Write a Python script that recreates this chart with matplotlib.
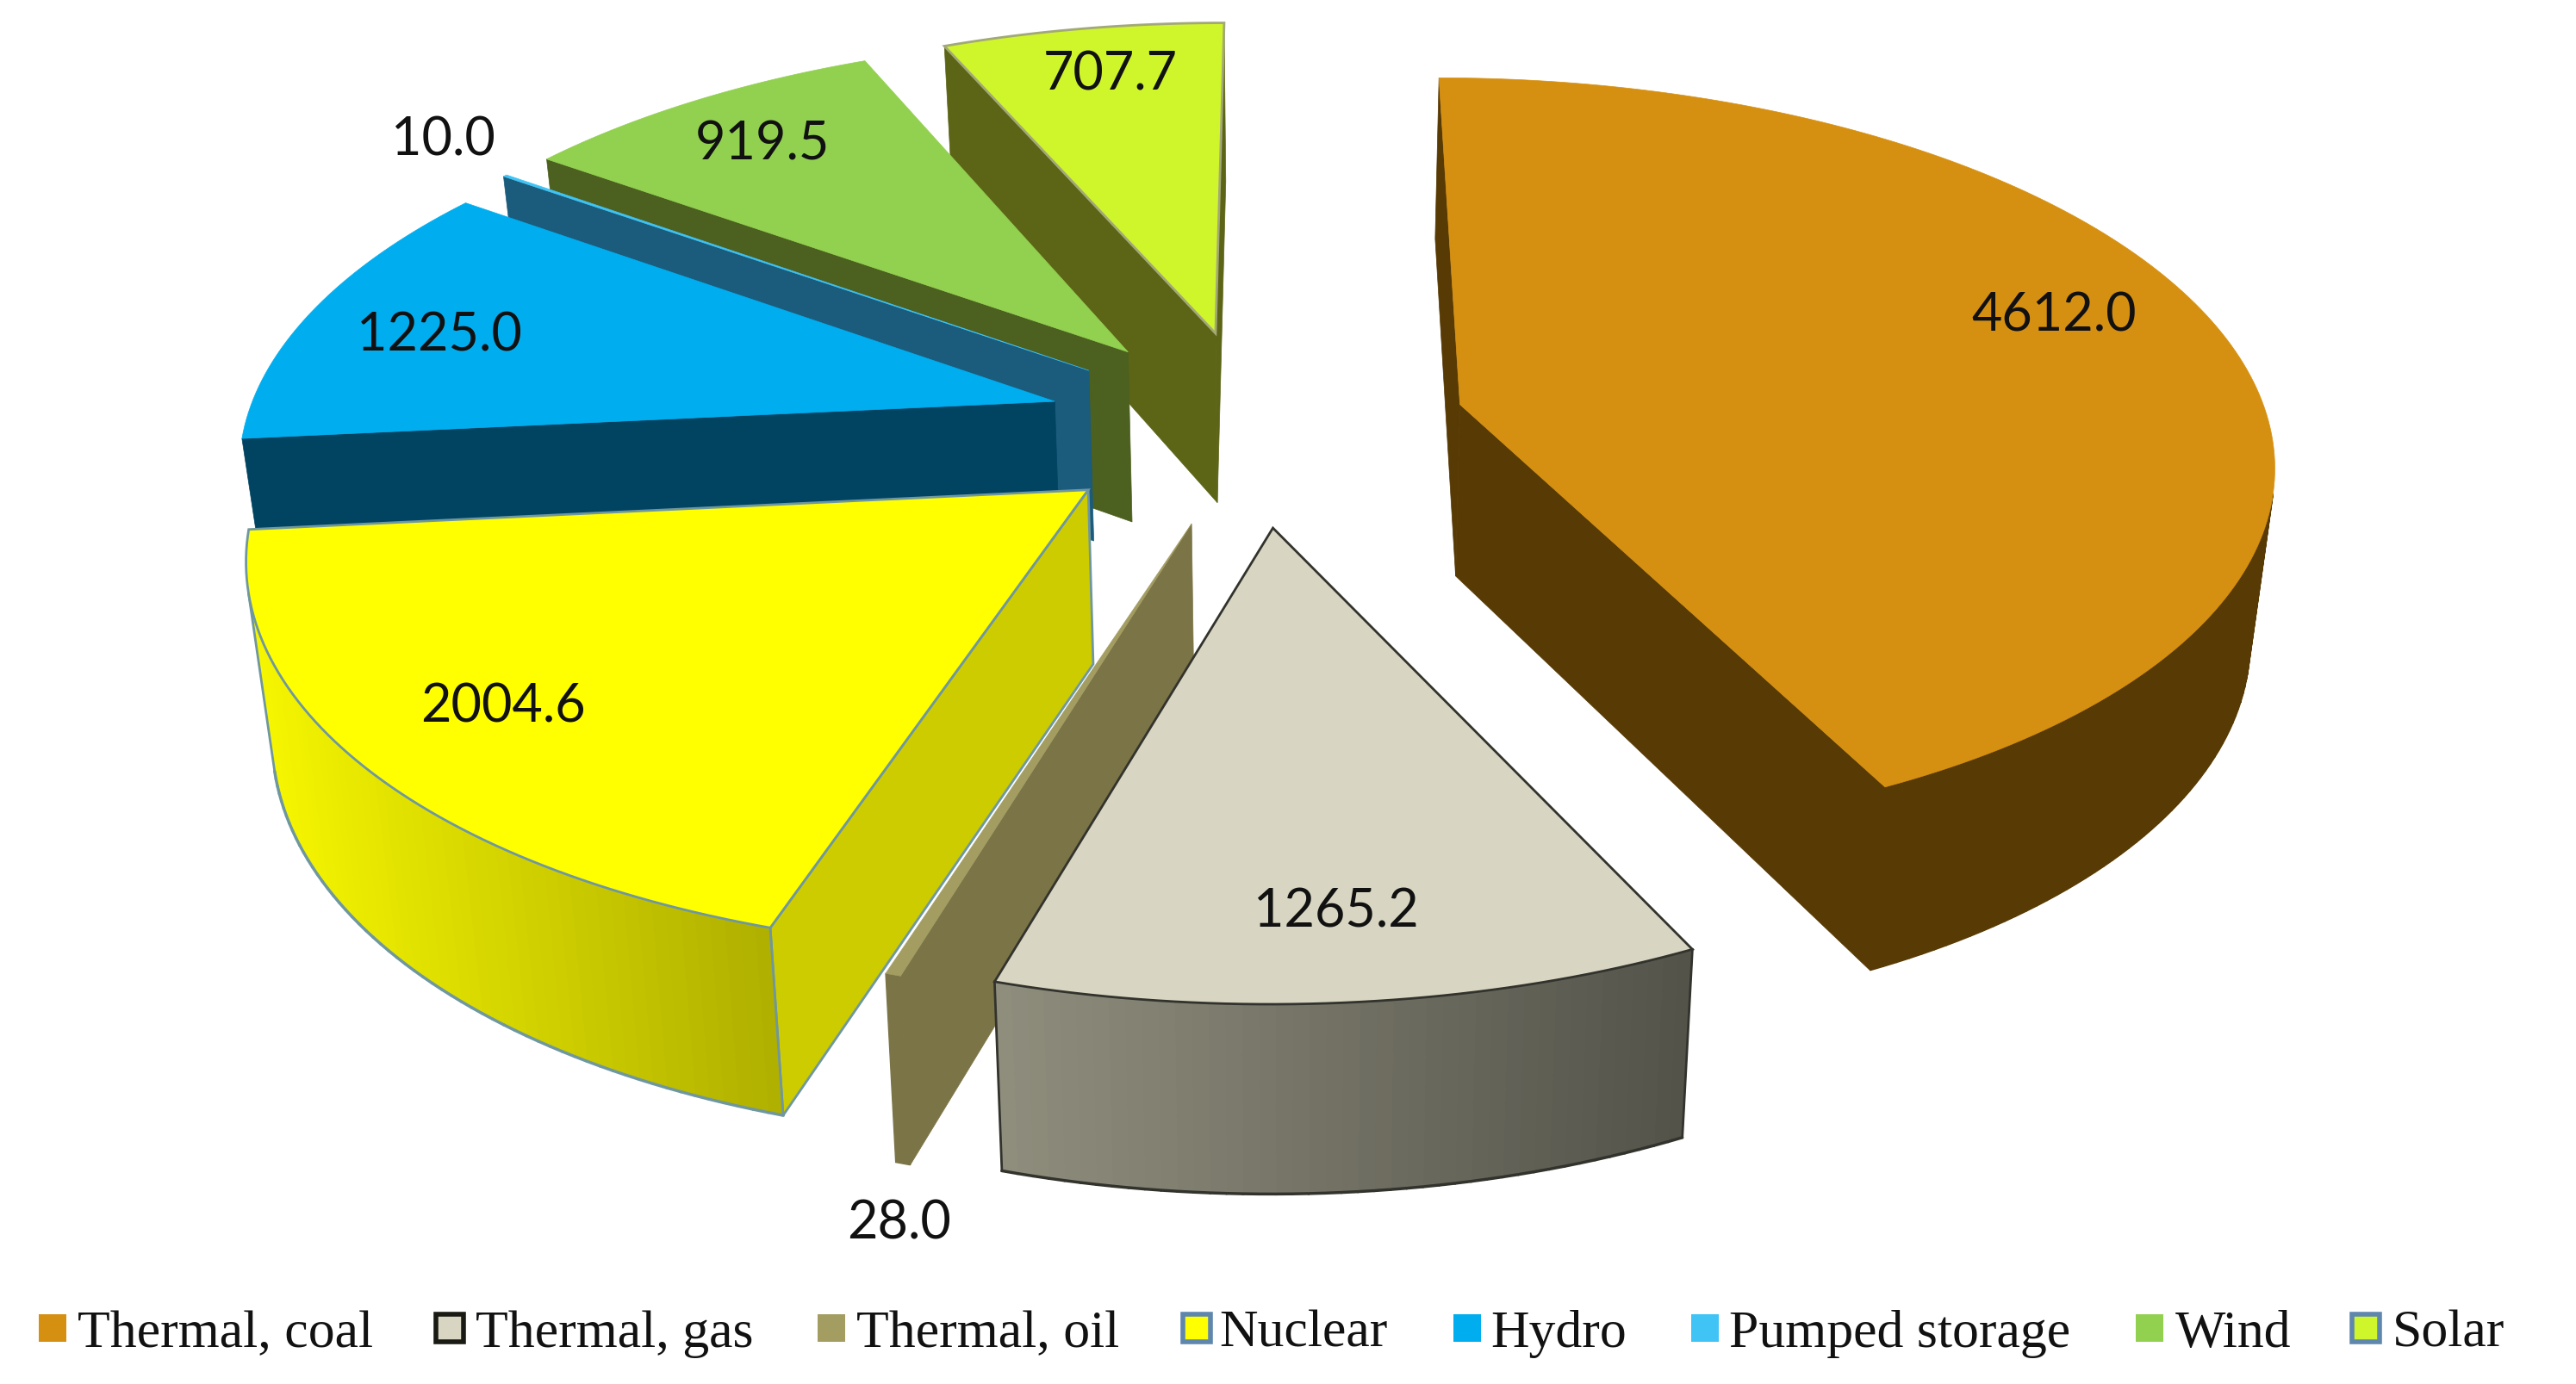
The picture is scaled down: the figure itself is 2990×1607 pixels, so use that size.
import numpy as np
import matplotlib
matplotlib.use("Agg")
import matplotlib.pyplot as plt
from matplotlib.patches import Polygon, Rectangle

# data
names = ["Thermal, coal", "Thermal, gas", "Thermal, oil", "Nuclear", "Hydro", "Pumped storage", "Wind", "Solar"]
values = [4612.0, 1265.2, 28.0, 2004.6, 1225.0, 10.0, 919.5, 707.7]
value_labels = ["4612.0", "1265.2", "28.0", "2004.6", "1225.0", "10.0", "919.5", "707.7"]

# colours, same order as names
top_colors = ["#d69011", "#d8d6c2", "#a39d62", "#ffff00", "#00aeef", "#3fc4f5", "#92d050", "#cff52b"]
wall_colors = ["#573a04", "#6e6d60", "#7b7447", "#cccc00", "#004462", "#1b5b7c", "#4c6020", "#5c6416"]
arc_left = ["#573a04", "#908f7e", "#7b7447", "#f7f700", "#004462", "#1b5b7c", "#4c6020", "#5c6416"]
arc_right = ["#573a04", "#54534a", "#7b7447", "#b0b000", "#004462", "#1b5b7c", "#4c6020", "#5c6416"]
top_edges = [None, "#33332d", None, "#6f97a0", None, None, None, "#a3a878"]
wall_edges = [None, "#33332d", None, "#6f97a0", None, None, None, None]
# hydro's outer wall sits behind nuclear in the reference
show_arc = [True, True, True, True, False, False, True, True]

# label and legend layout in pixels
label_xy = [(2384, 367), (1551, 1059), (1044, 1421), (584, 821), (510, 390), (514, 163), (885, 168), (1289, 87)]
swatch_x = [45, 506, 949, 1373, 1687, 1963, 2479, 2730]
text_x = [90, 552, 994, 1415, 1730, 2007, 2525, 2777]

# pie projection
cx, cy = 1458, 496
rx, ry = 940, 439
vp_x = 1495
persp = 0.14
explode = 0.26
height = 200
bottom_shrink = 0.975


def project(X, Y, drop=False):
    s = 1 / (1 + persp * Y)
    x = vp_x + (cx - vp_x + rx * X) * s
    y = cy - ry * Y * s
    if drop:
        x = vp_x + (x - vp_x) * bottom_shrink
        y = y + height * s ** 0.5
    return x, y


def area(pts):
    p = np.array(pts)
    return np.sum(p[:, 0] * np.roll(p[:, 1], -1) - np.roll(p[:, 0], -1) * p[:, 1])


def mix(c1, c2, t):
    a = np.array(matplotlib.colors.to_rgb(c1))
    b = np.array(matplotlib.colors.to_rgb(c2))
    return tuple(a + (b - a) * t)


def draw_wedge(ax, t0, t1, top, wall, left, right, top_edge, wall_edge, arc_on):
    mid = (t0 + t1) / 2
    ox = explode * np.sin(mid)
    oy = explode * np.cos(mid)
    th = np.linspace(t0, t1, max(2, int(np.degrees(t1 - t0)) + 2))
    rim_x = ox + np.sin(th)
    rim_y = oy + np.cos(th)
    rim_top = [project(a, b) for a, b in zip(rim_x, rim_y)]
    rim_bot = [project(a, b, True) for a, b in zip(rim_x, rim_y)]
    apex_top = project(ox, oy)
    apex_bot = project(ox, oy, True)

    # radial walls, only the ones facing us
    walls = [[apex_top, rim_top[0], rim_bot[0], apex_bot],
             [rim_top[-1], apex_top, apex_bot, rim_bot[-1]]]
    for q in walls:
        if area(q) < 0:
            ax.add_patch(Polygon(q, closed=True, fc=wall, ec=wall_edge or wall,
                                 lw=2 if wall_edge else 0.5, zorder=2))

    # outer wall, in thin pieces so it can carry the gradient
    if arc_on:
        xs = [p[0] for p in rim_top]
        x_lo, x_hi = min(xs), max(xs)
        seen = []
        for i in range(len(th) - 1):
            q = [rim_top[i], rim_top[i + 1], rim_bot[i + 1], rim_bot[i]]
            if area(q) < 0:
                t = (rim_top[i][0] - x_lo) / max(x_hi - x_lo, 1)
                c = mix(left, right, t)
                ax.add_patch(Polygon(q, closed=True, fc=c, ec=c, lw=1, zorder=2))
                seen.append(i)
                if wall_edge:
                    ax.plot([rim_bot[i][0], rim_bot[i + 1][0]], [rim_bot[i][1], rim_bot[i + 1][1]],
                            color=wall_edge, lw=2.5, zorder=2, solid_capstyle="round")
        if wall_edge and seen:
            for j in (seen[0], seen[-1] + 1):
                ax.plot([rim_top[j][0], rim_bot[j][0]], [rim_top[j][1], rim_bot[j][1]],
                        color=wall_edge, lw=2, zorder=2)

    ax.add_patch(Polygon([apex_top] + rim_top, closed=True, fc=top, ec=top_edge or top,
                         lw=2 if top_edge else 0.5, zorder=2))


fig = plt.figure(figsize=(29.9, 16.08), dpi=100)
ax = fig.add_axes([0, 0, 1, 1])
ax.set_xlim(0, 2990)
ax.set_ylim(1608, 0)
ax.axis("off")

fractions = np.array(values) / np.sum(values)
ends = np.cumsum(fractions) * 2 * np.pi
starts = ends - fractions * 2 * np.pi

# back to front
for i in [7, 6, 5, 4, 0, 3, 2, 1]:
    draw_wedge(ax, starts[i], ends[i], top_colors[i], wall_colors[i], arc_left[i], arc_right[i],
               top_edges[i], wall_edges[i], show_arc[i])

for (x, y), s in zip(label_xy, value_labels):
    ax.text(x, y, s, fontsize=44, family="Lato", color="#111111", ha="center", va="center", zorder=5)

# legend
for i, name in enumerate(names):
    edge = None
    if name == "Thermal, gas":
        edge = "#1a1a14"
    elif name in ("Nuclear", "Solar"):
        edge = "#5f86ad"
    ax.add_patch(Rectangle((swatch_x[i], 1527), 32, 32, fc=top_colors[i], ec=edge or top_colors[i],
                           lw=4 if edge else 0, zorder=3))
    ax.text(text_x[i], 1564, name, fontsize=44.5, family="Liberation Serif", color="#111111",
            ha="left", va="baseline", zorder=5)

fig.savefig("out.png", dpi=100, facecolor="white")
